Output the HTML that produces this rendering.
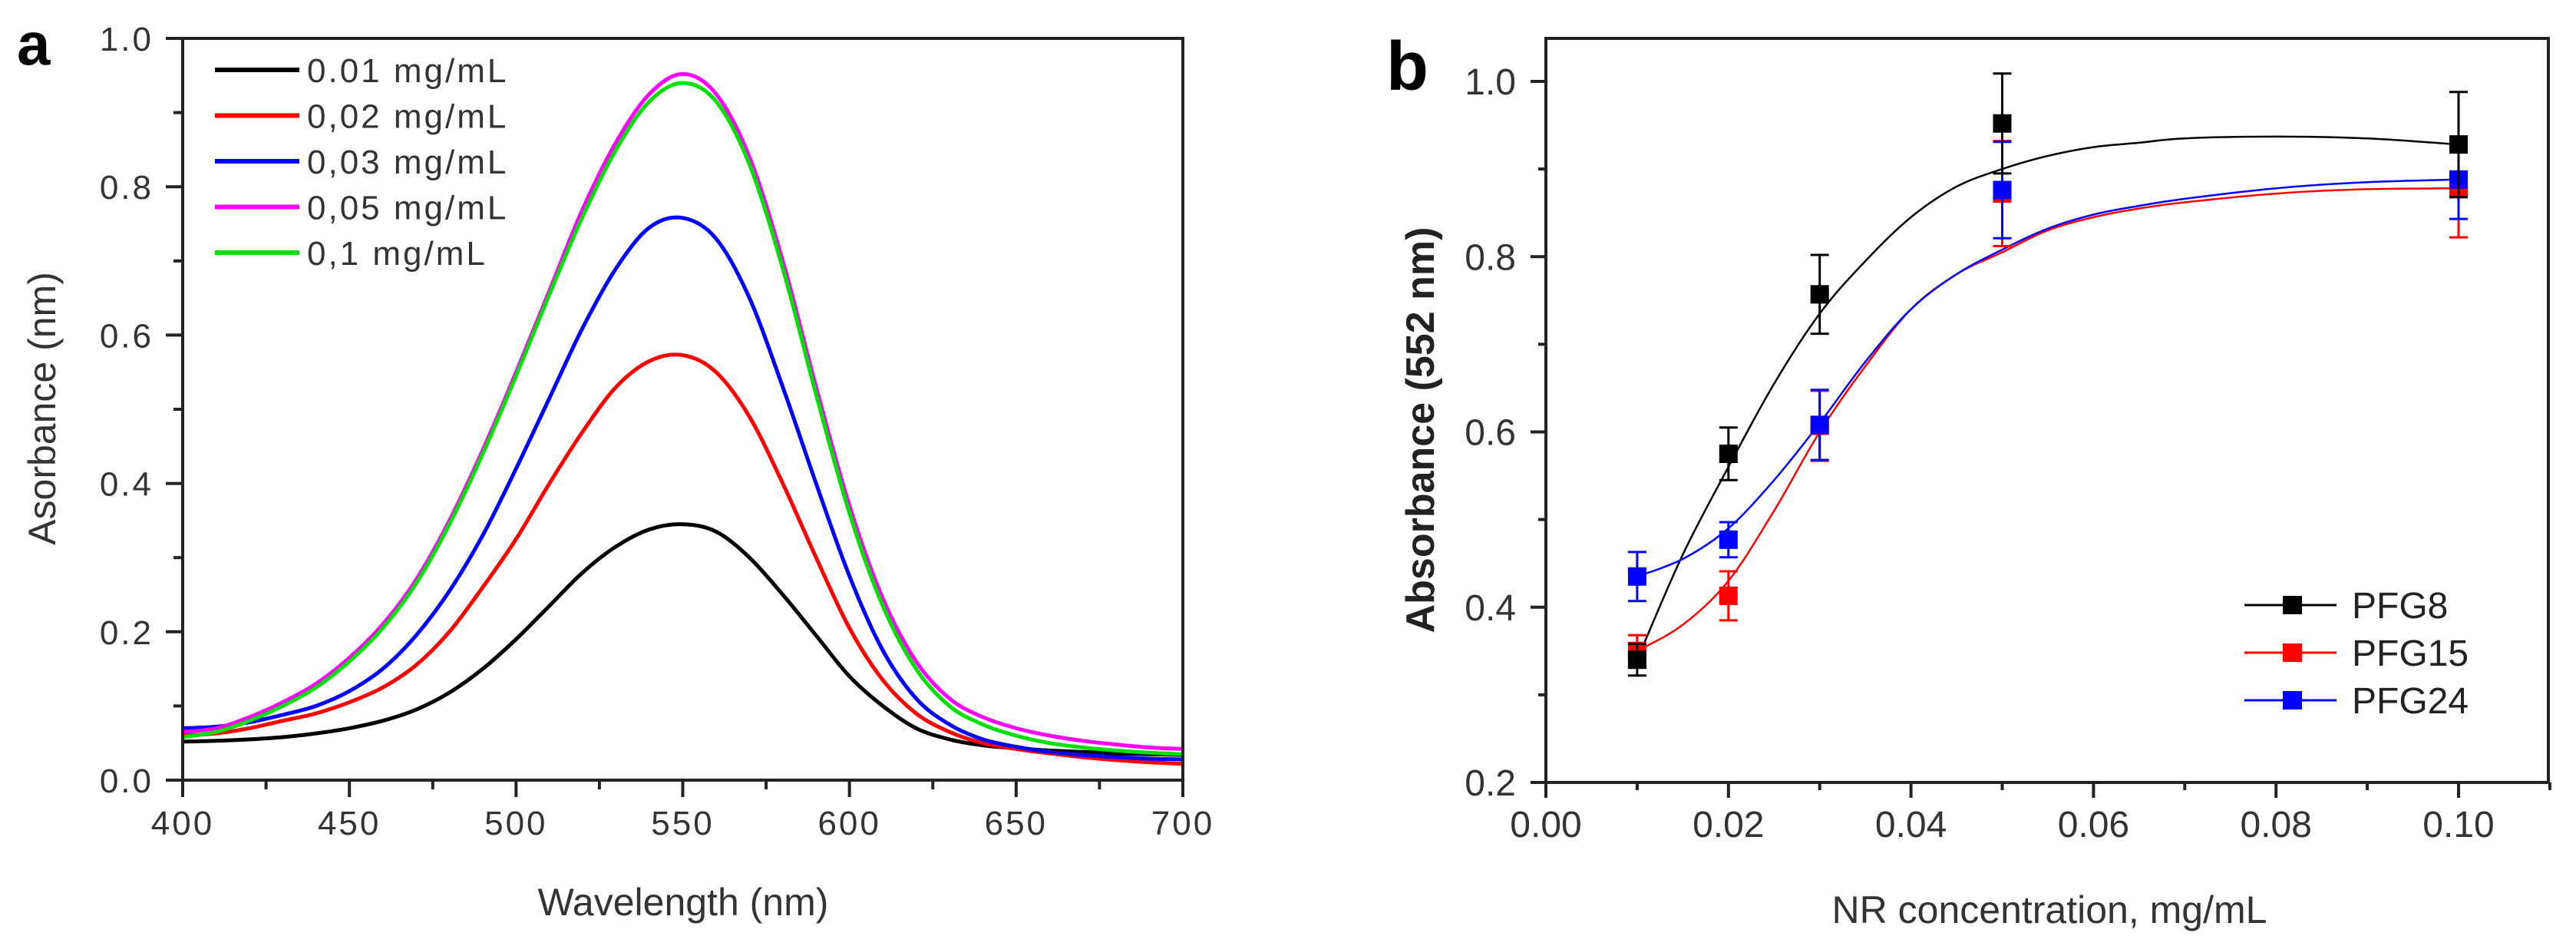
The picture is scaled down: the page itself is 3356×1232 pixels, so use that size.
<!DOCTYPE html>
<html><head><meta charset="utf-8"><style>
html,body{margin:0;padding:0;background:#fff;}
svg{display:block;font-family:"Liberation Sans",sans-serif;}
</style></head><body>
<svg id="fig" width="3356" height="1232" viewBox="0 0 3356 1232" xmlns="http://www.w3.org/2000/svg">
<rect width="3356" height="1232" fill="#fff"/>
<g id="pa"></g>
<g id="pb"></g>
</svg>
<script>
// ---- Panel a data ----
const wavelengths = [400,410,420,430,440,450,460,470,480,490,500,510,520,530,540,550,560,570,580,590,600,610,620,630,640,650,660,670,680,690,700];
const seriesNames = ["0.01 mg/mL","0,02 mg/mL","0,03 mg/mL","0,05 mg/mL","0,1 mg/mL"];
const seriesColors = ["#000000","#ff0000","#0000ff","#ff00ff","#00e000"];
const abs001 = [0.052,0.053,0.055,0.058,0.063,0.07,0.08,0.095,0.118,0.15,0.19,0.235,0.28,0.315,0.338,0.345,0.335,0.3,0.25,0.195,0.14,0.1,0.07,0.055,0.047,0.043,0.04,0.038,0.036,0.035,0.034];
const abs002 = [0.06,0.063,0.07,0.08,0.09,0.105,0.125,0.155,0.2,0.26,0.325,0.4,0.47,0.53,0.565,0.573,0.55,0.49,0.4,0.3,0.205,0.135,0.09,0.065,0.05,0.042,0.036,0.031,0.027,0.024,0.022];
const abs003 = [0.07,0.072,0.078,0.088,0.1,0.12,0.15,0.195,0.255,0.33,0.42,0.515,0.61,0.69,0.745,0.758,0.73,0.65,0.53,0.4,0.275,0.175,0.11,0.075,0.055,0.045,0.038,0.034,0.031,0.029,0.028];
const abs005 = [0.065,0.07,0.085,0.105,0.13,0.165,0.21,0.27,0.35,0.445,0.55,0.66,0.77,0.86,0.925,0.952,0.925,0.84,0.7,0.53,0.37,0.245,0.16,0.11,0.085,0.07,0.06,0.053,0.048,0.044,0.042];
const abs010 = [0.058,0.065,0.08,0.1,0.125,0.16,0.205,0.265,0.345,0.44,0.545,0.655,0.76,0.85,0.915,0.94,0.915,0.83,0.69,0.52,0.36,0.235,0.15,0.1,0.075,0.06,0.05,0.044,0.04,0.037,0.035];
const aXTicks = ["400","450","500","550","600","650","700"];
const aYTicks = ["0.0","0.2","0.4","0.6","0.8","1.0"];
// ---- Panel b data ----
const concentrations = [0.01,0.02,0.03,0.05,0.1];
const pfgNames = ["PFG8","PFG15","PFG24"];
const pfgColors = ["#000000","#ff0000","#0000ff"];
const pfg8 = [0.34,0.575,0.757,0.952,0.928];
const pfg8Err = [0.018,0.03,0.045,0.057,0.06];
const pfg15 = [0.35,0.413,0.607,0.872,0.877];
const pfg15Err = [0.018,0.028,0.04,0.06,0.055];
const pfg24 = [0.435,0.477,0.608,0.876,0.888];
const pfg24Err = [0.028,0.02,0.04,0.055,0.045];
const fitX = [0.01,0.015,0.02,0.025,0.03,0.035,0.04,0.045,0.05,0.055,0.06,0.065,0.07,0.08,0.09,0.1];
const fit8 = [0.34,0.46,0.56,0.655,0.735,0.795,0.845,0.88,0.9,0.915,0.925,0.93,0.935,0.937,0.935,0.928];
const fit15 = [0.35,0.38,0.43,0.51,0.6,0.675,0.74,0.78,0.805,0.83,0.845,0.855,0.862,0.872,0.877,0.878];
const fit24 = [0.435,0.455,0.49,0.545,0.61,0.68,0.74,0.78,0.808,0.832,0.848,0.858,0.866,0.878,0.885,0.888];
const bXTicks = ["0.00","0.02","0.04","0.06","0.08","0.10"];
const bYTicks = ["0.2","0.4","0.6","0.8","1.0"];

const NS="http://www.w3.org/2000/svg";
function mk(tag,attrs,parent){const e=document.createElementNS(NS,tag);for(const k in attrs)e.setAttribute(k,attrs[k]);parent.appendChild(e);return e;}
function smooth(pts){let d="M"+pts[0][0]+","+pts[0][1];for(let i=0;i<pts.length-1;i++){const p0=pts[Math.max(i-1,0)],p1=pts[i],p2=pts[i+1],p3=pts[Math.min(i+2,pts.length-1)];const c1=[p1[0]+(p2[0]-p0[0])/6,p1[1]+(p2[1]-p0[1])/6],c2=[p2[0]-(p3[0]-p1[0])/6,p2[1]-(p3[1]-p1[1])/6];d+=" C"+c1[0].toFixed(1)+","+c1[1].toFixed(1)+" "+c2[0].toFixed(1)+","+c2[1].toFixed(1)+" "+p2[0].toFixed(1)+","+p2[1].toFixed(1);}return d;}

// ===== Panel a =====
(function(){
const g=document.getElementById('pa');
const L=238,R=1541,T=50,B=1016;
const xs=v=>L+(v-400)/300*(R-L), ys=v=>B-(v-0)/1.0*(B-T);
let t=mk('text',{x:22,y:84,'font-size':78,'font-weight':'bold',fill:'#000'},g);t.textContent='a';

const all=[abs001,abs002,abs003,abs005,abs010];
const cg=mk('g',{},g);
all.forEach((s,i)=>{const pts=wavelengths.map((w,j)=>[xs(w),ys(s[j])]);const p=mk('path',{d:smooth(pts),fill:'none',stroke:seriesColors[i],'stroke-width':5,'stroke-linejoin':'round'},cg);

});
mk('rect',{x:L,y:T,width:R-L,height:B-T,fill:'none',stroke:'#222','stroke-width':4},g);
for(let v=400;v<=700;v+=25){const maj=(v%50===0);mk('line',{x1:xs(v),x2:xs(v),y1:B,y2:B+(maj?22:12),stroke:'#222','stroke-width':4},g);}
aXTicks.forEach(s=>{const e=mk('text',{x:xs(+s),y:1087,'font-size':44,'text-anchor':'middle',fill:'#333','letter-spacing':3},g);e.textContent=s;
});
for(let k=0;k<=10;k++){const v=k/10,maj=(k%2===0);mk('line',{x1:L,x2:L-(maj?22:12),y1:ys(v),y2:ys(v),stroke:'#222','stroke-width':4},g);}
aYTicks.forEach(s=>{const e=mk('text',{x:200,y:ys(+s)+16,'font-size':44,'text-anchor':'end',fill:'#333','letter-spacing':3},g);e.textContent=s;
});
t=mk('text',{x:890,y:1192,'font-size':50,'text-anchor':'middle',fill:'#333'},g);t.textContent='Wavelength (nm)';

t=mk('text',{x:0,y:0,'font-size':50,'text-anchor':'middle',fill:'#333',transform:'translate(72,532) rotate(-90)'},g);t.textContent='Asorbance (nm)';

seriesNames.forEach((n,i)=>{const y=91+i*59.5;const lg=mk('g',{},g);

mk('line',{x1:280,x2:390,y1:y,y2:y,stroke:seriesColors[i],'stroke-width':6},lg);
const e=mk('text',{x:400,y:y+16,'font-size':44,fill:'#333','letter-spacing':3},lg);e.textContent=n;});
})();

// ===== Panel b =====
(function(){
const g=document.getElementById('pb');
const L=2014,R=3320,T=50,B=1019;
const xs=v=>L+v/0.1*(3203-L), ys=v=>B-(v-0.2)/0.8*(B-106);
let t=mk('text',{x:1806,y:117,'font-size':90,'font-weight':'bold',fill:'#000'},g);t.textContent='b';

const fits=[fit8,fit15,fit24],pts=[pfg8,pfg15,pfg24],errs=[pfg8Err,pfg15Err,pfg24Err];
[0,1,2].forEach(i=>{const p=mk('path',{d:smooth(fitX.map((x,j)=>[xs(x),ys(fits[i][j])])),fill:'none',stroke:pfgColors[i],'stroke-width':2.5},g);

});
[1,2,0].forEach(i=>{concentrations.forEach((c,j)=>{const x=xs(c),y=ys(pts[i][j]),e=errs[i][j];
const eb=mk('path',{d:`M${x},${ys(pts[i][j]+e)}V${ys(pts[i][j]-e)}M${x-12},${ys(pts[i][j]+e)}h24M${x-12},${ys(pts[i][j]-e)}h24`,stroke:pfgColors[i],'stroke-width':3,fill:'none'},g);


const r=mk('rect',{x:x-12,y:y-12,width:24,height:24,fill:pfgColors[i]},g);

});});
mk('rect',{x:L,y:T,width:R-L,height:B-T,fill:'none',stroke:'#222','stroke-width':4},g);
for(let k=0;k<=11;k++){const v=k/100,maj=(k%2===0);mk('line',{x1:xs(v),x2:xs(v),y1:B,y2:B+(maj?20:10),stroke:'#222','stroke-width':4},g);}
bXTicks.forEach(s=>{const e=mk('text',{x:xs(+s),y:1090,'font-size':48,'text-anchor':'middle',fill:'#333'},g);e.textContent=s;
});
for(let k=2;k<=10;k++){const v=k/10,maj=(k%2===0);mk('line',{x1:L,x2:L-(maj?20:10),y1:ys(v),y2:ys(v),stroke:'#222','stroke-width':4},g);}
bYTicks.forEach(s=>{const e=mk('text',{x:1975,y:ys(+s)+17,'font-size':48,'text-anchor':'end',fill:'#333'},g);e.textContent=s;
});
t=mk('text',{x:2670,y:1202,'font-size':50,'text-anchor':'middle',fill:'#333'},g);t.textContent='NR concentration, mg/mL';

t=mk('text',{x:0,y:0,'font-size':52,'font-weight':'bold','text-anchor':'middle',fill:'#222',transform:'translate(1868,560) rotate(-90)'},g);t.textContent='Absorbance (552 nm)';

pfgNames.forEach((n,i)=>{const y=788+i*62;const lg=mk('g',{},g);

mk('line',{x1:2924,x2:3044,y1:y,y2:y,stroke:pfgColors[i],'stroke-width':3},lg);
mk('rect',{x:2974,y:y-12,width:25,height:24,fill:pfgColors[i]},lg);
const e=mk('text',{x:3064,y:y+17,'font-size':48,fill:'#222'},lg);e.textContent=n;});
})();
</script>
</body></html>
